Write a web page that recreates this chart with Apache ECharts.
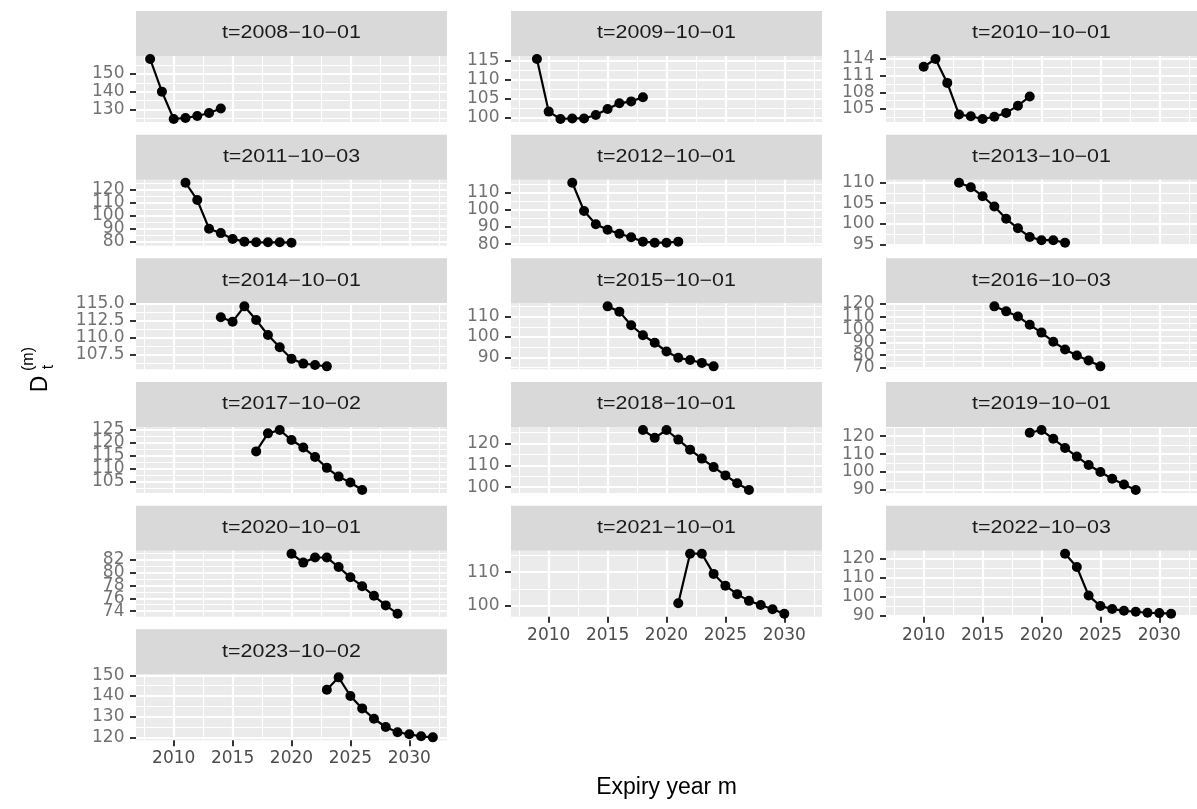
<!DOCTYPE html>
<html><head><meta charset="utf-8">
<script src="https://cdn.jsdelivr.net/npm/echarts@6/dist/echarts.min.js"></script>
<style>html,body{margin:0;padding:0;background:#fff}#c{width:1197px;height:809px}</style>
</head><body><div id="c"></div>
<script>
// ---------- data ----------
const panelTitles = ['t=2008\u221210\u221201','t=2009\u221210\u221201','t=2010\u221210\u221201',
  't=2011\u221210\u221203','t=2012\u221210\u221201','t=2013\u221210\u221201',
  't=2014\u221210\u221201','t=2015\u221210\u221201','t=2016\u221210\u221203',
  't=2017\u221210\u221202','t=2018\u221210\u221201','t=2019\u221210\u221201',
  't=2020\u221210\u221201','t=2021\u221210\u221201','t=2022\u221210\u221203',
  't=2023\u221210\u221202'];
const d2008 = [[2008,158.5],[2009,140.0],[2010,124.5],[2011,125.1],[2012,126.2],[2013,127.9],[2014,130.4]];
const d2009 = [[2009,115.5],[2010,101.6],[2011,99.65],[2012,99.8],[2013,99.8],[2014,100.7],[2015,102.3],[2016,103.8],[2017,104.3],[2018,105.4]];
const d2010 = [[2010,112.6],[2011,114.0],[2012,109.7],[2013,104.0],[2014,103.7],[2015,103.2],[2016,103.6],[2017,104.3],[2018,105.6],[2019,107.25]];
const d2011 = [[2011,125.6],[2012,112.2],[2013,90.0],[2014,86.6],[2015,82.1],[2016,80.0],[2017,79.5],[2018,79.5],[2019,79.5],[2020,79.2]];
const d2012 = [[2012,115.9],[2013,99.4],[2014,91.6],[2015,88.4],[2016,86.1],[2017,84.1],[2018,81.5],[2019,80.9],[2020,80.9],[2021,81.5]];
const d2013 = [[2013,110.0],[2014,108.9],[2015,106.7],[2016,104.2],[2017,101.2],[2018,98.9],[2019,96.8],[2020,96.0],[2021,96.0],[2022,95.4]];
const d2014 = [[2014,113.0],[2015,112.35],[2016,114.6],[2017,112.6],[2018,110.4],[2019,108.6],[2020,106.9],[2021,106.2],[2022,106.0],[2023,105.8]];
const d2015 = [[2015,115.1],[2016,112.5],[2017,105.8],[2018,100.9],[2019,97.2],[2020,92.9],[2021,89.8],[2022,88.7],[2023,87.3],[2024,85.6]];
const d2016 = [[2016,118.1],[2017,114.2],[2018,110.2],[2019,103.7],[2020,97.6],[2021,90.5],[2022,84.5],[2023,79.8],[2024,75.8],[2025,71.3]];
const d2017 = [[2017,116.7],[2018,123.7],[2019,125.0],[2020,121.1],[2021,118.2],[2022,114.5],[2023,110.3],[2024,106.9],[2025,104.6],[2026,101.7]];
const d2018 = [[2018,126.2],[2019,122.6],[2020,126.2],[2021,121.8],[2022,117.2],[2023,113.1],[2024,109.2],[2025,105.4],[2026,101.8],[2027,98.7]];
const d2019 = [[2019,121.9],[2020,123.4],[2021,118.5],[2022,113.4],[2023,108.6],[2024,103.9],[2025,100.0],[2026,96.3],[2027,93.1],[2028,90.0]];
const d2020 = [[2020,83.0],[2021,81.6],[2022,82.4],[2023,82.4],[2024,80.9],[2025,79.3],[2026,77.9],[2027,76.4],[2028,74.9],[2029,73.6]];
const d2021 = [[2021,100.8],[2022,115.5],[2023,115.5],[2024,109.5],[2025,106.0],[2026,103.5],[2027,101.5],[2028,100.3],[2029,99.0],[2030,97.7]];
const d2022 = [[2022,122.5],[2023,115.5],[2024,100.5],[2025,95.0],[2026,93.5],[2027,92.5],[2028,92.0],[2029,91.5],[2030,91.3],[2031,91.0]];
const d2023 = [[2023,143.0],[2024,149.0],[2025,140.0],[2026,134.0],[2027,129.0],[2028,125.0],[2029,122.5],[2030,121.5],[2031,120.5],[2032,120.0]];
const panelData = [d2008,d2009,d2010,d2011,d2012,d2013,d2014,d2015,d2016,d2017,d2018,d2019,d2020,d2021,d2022,d2023];

const yTicks = [
  [130,140,150],[100,105,110,115],[105,108,111,114],
  [80,90,100,110,120],[80,90,100,110],[95,100,105,110],
  [107.5,110,112.5,115],[90,100,110],[70,80,90,100,110,120],
  [105,110,115,120,125],[100,110,120],[90,100,110,120],
  [74,76,78,80,82],[100,110],[90,100,110,120],
  [120,130,140,150]];
const yTickDecimals = [0,0,0,0,0,0,1,0,0,0,0,0,0,0,0,0];
const xTicks = [2010,2015,2020,2025,2030];
const xMinorTicks = [2007.5,2012.5,2017.5,2022.5,2027.5,2032.5];
const xTitle = 'Expiry year m';

// ---------- layout ----------
const FONT = 'Liberation Sans, Arial, sans-serif';
const TICKFONT = 'DejaVu Sans, Liberation Sans, sans-serif';
const colLeft = [136, 511, 886];
const panelW = 311;
const stripTop0 = 11, rowPitch = 123.67, stripH = 45, panelH = 66;
const bottomPanels = [13, 14, 15];

function expand(lo, hi) { const r = hi - lo; return [lo - 0.05 * r, hi + 0.05 * r]; }
let allX = [];
panelData.forEach(d => d.forEach(p => allX.push(p[0])));
const xExt = expand(Math.min(...allX), Math.max(...allX));

function minorOf(t) {
  const out = [];
  const step = t.length > 1 ? t[1] - t[0] : 10;
  out.push(t[0] - step / 2);
  for (let i = 0; i < t.length - 1; i++) out.push((t[i] + t[i + 1]) / 2);
  out.push(t[t.length - 1] + step / 2);
  return out;
}

const grids = [], xAxes = [], yAxes = [], series = [], graphics = [];
panelData.forEach((d, i) => {
  const col = i % 3, row = Math.floor(i / 3);
  const left = colLeft[col];
  const sTop = stripTop0 + row * rowPitch;
  const pTop = sTop + stripH;
  const isBottom = bottomPanels.indexOf(i) >= 0;
  const ys = d.map(p => p[1]);
  const yExt = expand(Math.min(...ys), Math.max(...ys));
  grids.push({ left: left, top: pTop, width: panelW, height: panelH, show: true,
    backgroundColor: '#EBEBEB', borderWidth: 0, containLabel: false });
  xAxes.push({ gridIndex: i, type: 'value', position: 'bottom', min: xExt[0], max: xExt[1],
    axisLine: { show: false },
    axisTick: { show: isBottom, length: 6, lineStyle: { color: '#333333', width: 2 }, customValues: xTicks },
    axisLabel: { show: isBottom, customValues: xTicks, color: '#4D4D4D', fontSize: 17, fontFamily: TICKFONT, margin: 10,
      showMinLabel: true, showMaxLabel: true, formatter: v => String(Math.round(v)) },
    splitLine: { show: true, lineStyle: { color: '#FFFFFF', width: 2.2 } } });
  xAxes.push({ gridIndex: i, type: 'value', position: 'top', min: xExt[0], max: xExt[1],
    axisLine: { show: false }, axisLabel: { show: false },
    axisTick: { show: false, customValues: xMinorTicks },
    splitLine: { show: true, lineStyle: { color: '#FFFFFF', width: 1.1 } } });
  const dec = yTickDecimals[i];
  yAxes.push({ gridIndex: i, type: 'value', position: 'left', min: yExt[0], max: yExt[1],
    axisLine: { show: false },
    axisTick: { show: true, length: 6, lineStyle: { color: '#333333', width: 2 }, customValues: yTicks[i] },
    axisLabel: { show: false, customValues: yTicks[i] },
    splitLine: { show: true, lineStyle: { color: '#FFFFFF', width: 2.2 } } });
  yAxes.push({ gridIndex: i, type: 'value', position: 'right', min: yExt[0], max: yExt[1],
    axisLine: { show: false }, axisLabel: { show: false },
    axisTick: { show: false, customValues: minorOf(yTicks[i]) },
    splitLine: { show: true, lineStyle: { color: '#FFFFFF', width: 1.1 } } });
  series.push({ type: 'line', xAxisIndex: 2 * i, yAxisIndex: 2 * i, data: d,
    symbol: 'circle', symbolSize: 10, showSymbol: true, showAllSymbol: true,
    itemStyle: { color: '#000000' }, lineStyle: { color: '#000000', width: 2.2 },
    emphasis: { disabled: true }, animation: false, z: 5 });
  // y tick labels, placed through the panel's own scales at the left edge
  series.push({ type: 'scatter', xAxisIndex: 2 * i, yAxisIndex: 2 * i,
    data: yTicks[i].map(v => [xExt[0], v]), symbolSize: 1, clip: false, silent: true,
    itemStyle: { color: 'rgba(0,0,0,0)' }, animation: false, z: 6,
    label: { show: true, position: 'left', distance: 11, color: '#4D4D4D', fontSize: 17, fontFamily: TICKFONT,
      formatter: p => Number(p.value[1]).toFixed(dec) },
    labelLayout: { hideOverlap: false } });
  graphics.push({ type: 'rect', shape: { x: left, y: sTop, width: panelW, height: stripH },
    style: { fill: '#D9D9D9' }, silent: true });
  graphics.push({ type: 'text', x: left + panelW / 2, y: sTop + stripH / 2, scaleX: 1.19,
    style: { text: panelTitles[i], fill: '#1A1A1A', fontSize: 18, fontFamily: FONT,
      align: 'center', verticalAlign: 'middle' }, silent: true });
});

const panelsRight = colLeft[2] + panelW;
graphics.push({ type: 'text', x: (colLeft[0] + panelsRight) / 2, y: 788,
  style: { text: xTitle, fill: '#000000', fontSize: 23, fontFamily: FONT, align: 'center', verticalAlign: 'middle' } });
graphics.push({ type: 'group', x: 41, y: 376, rotation: Math.PI / 2, children: [
  { type: 'text', x: -8, y: 0, style: { text: 'D', fill: '#000', fontSize: 23, fontFamily: FONT, align: 'center', verticalAlign: 'middle' } },
  { type: 'text', x: 9, y: 8, style: { text: 't', fill: '#000', fontSize: 16, fontFamily: FONT, align: 'center', verticalAlign: 'middle' } },
  { type: 'text', x: 17, y: -12, style: { text: '(m)', fill: '#000', fontSize: 16, fontFamily: FONT, align: 'center', verticalAlign: 'middle' } }
] });

const chart = echarts.init(document.getElementById('c'), null, { renderer: 'canvas' });
chart.setOption({
  animation: false,
  backgroundColor: '#FFFFFF',
  grid: grids, xAxis: xAxes, yAxis: yAxes, series: series, graphic: graphics
});
</script></body></html>
